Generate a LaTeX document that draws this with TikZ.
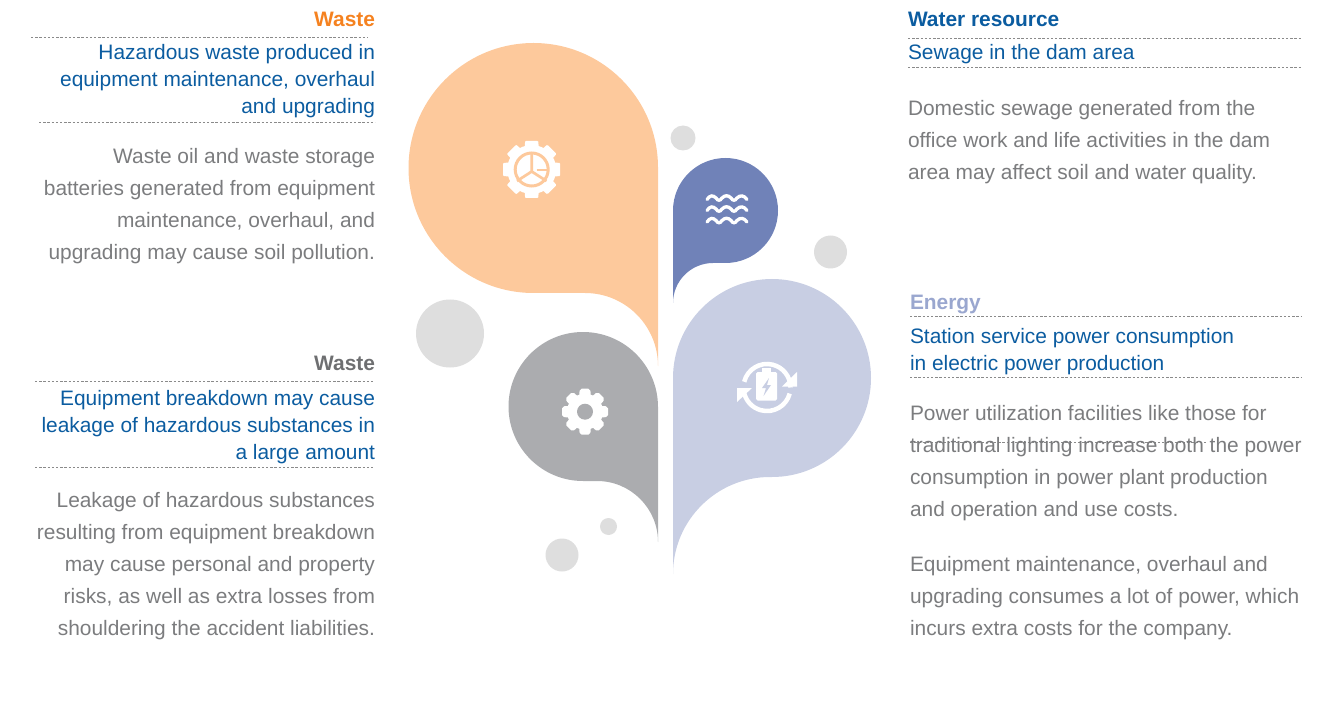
\documentclass[tikz,border=0pt]{standalone}
\usepackage{fontspec}
\setmainfont{Liberation Sans}
\definecolor{cOrange}{HTML}{FDC99C}
\definecolor{cGray}{HTML}{ABACAF}
\definecolor{cBlue}{HTML}{7082B8}
\definecolor{cLight}{HTML}{C8CEE3}
\definecolor{cDot}{HTML}{DEDEDE}
\definecolor{tBlue}{HTML}{0B5CA0}
\definecolor{tGray}{HTML}{7B7C7E}
\definecolor{tOrange}{HTML}{F58220}
\definecolor{tEnergy}{HTML}{9AA7CF}
\definecolor{tDark}{HTML}{6E6F71}
\definecolor{rule}{HTML}{8A8A8A}
\tikzset{
  x=1pt,y=-1pt,
  txt/.style={inner sep=0pt,outer sep=0pt,font=\fontsize{20.9}{32}\selectfont,text=tGray},
  sub/.style={inner sep=0pt,outer sep=0pt,font=\fontsize{20.9}{27}\selectfont,text=tBlue},
  head/.style={inner sep=0pt,outer sep=0pt,font=\fontsize{20.9}{27}\selectfont\bfseries},
  dotrule/.style={draw=rule,line width=0.9pt,dash pattern=on 2.4pt off 1.8pt},
  blob/.style={draw=none},
  bubble/.style={circle,fill=cDot,draw=none,inner sep=0pt,minimum size=#1}
}
\newcommand{\gearshape}[5]{% x,y,rbody,rout,corner
  \fill[white] (#1,#2) circle[radius=#3];
  \foreach \a in {0,45,...,315}{
    \fill[white,rotate around={\a:(#1,#2)},rounded corners=#5]
      ({#1-0.3*#4},#2) -- ({#1-0.23*#4},{#2-#4}) -- ({#1+0.23*#4},{#2-#4}) -- ({#1+0.3*#4},#2) -- cycle;
  }
}
\begin{document}
\begin{tikzpicture}
\useasboundingbox (0,0) rectangle (1325,727);
% petals
\fill[cOrange,blob] (533.5,43) arc[start angle=-90,end angle=0,radius=124.5] -- (658,366)
  .. controls (658,325.7) and (625.3,293) .. (585,293) -- (533.5,293) arc[start angle=90,end angle=270,radius=125] -- cycle;
\fill[cGray,blob] (583,332) arc[start angle=-90,end angle=0,radius=75] -- (658,542)
  .. controls (658,508.3) and (630.7,481) .. (597,481) -- (583,481) arc[start angle=90,end angle=270,radius=74.5] -- cycle;
\fill[cBlue,blob] (725.5,158) arc[start angle=-90,end angle=90,radius=52.5] -- (713,263)
  .. controls (691,263) and (673,281) .. (673,303) -- (673,210.5) arc[start angle=180,end angle=270,radius=52.5] -- cycle;
\fill[cLight,blob] (772,279) arc[start angle=-90,end angle=90,radius=99] -- (770,477)
  .. controls (717,477) and (673,520) .. (673,574) -- (673,378) arc[start angle=180,end angle=270,radius=99] -- cycle;
% bubbles
\node[bubble=25pt] (b1) at (683,138) {};
\node[bubble=33pt] (b2) at (830.5,252) {};
\node[bubble=68pt] (b3) at (450,333.5) {};
\node[bubble=17pt] (b4) at (608.5,526.5) {};
\node[bubble=33pt] (b5) at (562,555) {};
% orange gear icon
\gearshape{531.7}{169.5}{24.5}{28.5}{0.8pt}
\draw[cOrange,line width=3pt] (531.7,169.5) circle[radius=16.5];
\draw[cOrange,line width=2.7pt] (531.7,153) -- (531.7,171.5) -- (517,181) (531.7,171.5) -- (546.5,181);
\draw[cOrange,line width=2.4pt] (536.5,170) -- (548,170);
% wave icon
\foreach \yy in {198,209,220.5}{
  \draw[white,line width=3.3pt,line cap=round] (707,\yy+1.5)
    .. controls (710,\yy-3) and (713,\yy-3) .. (716,\yy)
    .. controls (718,\yy+3) and (720,\yy+3) .. (722,\yy)
    .. controls (725,\yy-3) and (728,\yy-3) .. (731,\yy)
    .. controls (733,\yy+3) and (735,\yy+3) .. (737,\yy)
    .. controls (740,\yy-3) and (744,\yy-3) .. (747,\yy+1.5);
}
% battery icon
\draw[white,line width=4.5pt] (744.2,381.8) arc[start angle=194,end angle=360,radius=23.5];
\draw[white,line width=4.5pt] (789.7,393.6) arc[start angle=15,end angle=170,radius=23.5];
\fill[white] (797,372) -- (797,386.5) -- (782,386.5) -- cycle;
\fill[white] (737,388) -- (752,388) -- (737,402) -- cycle;
\fill[white,rounded corners=1.5pt] (756,372) rectangle (777,400.5);
\fill[white] (762,368) rectangle (771,373);
\fill[cLight] (769,378) -- (762,388) -- (766,388) -- (763.5,396) -- (771,385) -- (767,385) -- cycle;
% grey gear icon
\gearshape{585}{411.7}{18}{23}{2pt}
\fill[cGray] (585,411.7) circle[radius=8];
% left column, block 1
\node[head,text=tOrange,anchor=base east] (h1) at (375,26.5) {Waste};
\coordinate (r1a) at (31,37); \coordinate (r1b) at (368,37);
\draw[dotrule] (r1a) -- (r1b);
\node[sub,anchor=base east,align=right] (s1) at (375,114) {Hazardous waste produced in\\equipment maintenance, overhaul\\and upgrading};
\coordinate (r2a) at (39,122); \coordinate (r2b) at (375,122);
\draw[dotrule] (r2a) -- (r2b);
\node[txt,anchor=base east,align=right] (t1) at (375,259.5) {Waste oil and waste storage\\batteries generated from equipment\\maintenance, overhaul, and\\upgrading may cause soil pollution.};
% left column, block 2
\node[head,text=tDark,anchor=base east] (h2) at (375,370.5) {Waste};
\coordinate (r3a) at (35,381); \coordinate (r3b) at (375,381);
\draw[dotrule] (r3a) -- (r3b);
\node[sub,anchor=base east,align=right] (s2) at (375,459) {Equipment breakdown may cause\\leakage of hazardous substances in\\a large amount};
\coordinate (r4a) at (35,467); \coordinate (r4b) at (375,467);
\draw[dotrule] (r4a) -- (r4b);
\node[txt,anchor=base east,align=right] (t2) at (375,635) {Leakage of hazardous substances\\resulting from equipment breakdown\\may cause personal and property\\risks, as well as extra losses from\\shouldering the accident liabilities.};
% right column, block 1
\node[head,text=tBlue,anchor=base west] (h3) at (908,26.5) {Water resource};
\coordinate (r5a) at (908,38); \coordinate (r5b) at (1302,38);
\draw[dotrule] (r5a) -- (r5b);
\node[sub,anchor=base west] (s3) at (908,60) {Sewage in the dam area};
\coordinate (r6a) at (908,67); \coordinate (r6b) at (1302,67);
\draw[dotrule] (r6a) -- (r6b);
\node[txt,anchor=base west,align=left] (t3) at (908,179.5) {Domestic sewage generated from the\\office work and life activities in the dam\\area may affect soil and water quality.};
% right column, block 2
\node[head,text=tEnergy,anchor=base west] (h4) at (910,309.5) {Energy};
\coordinate (r7a) at (910,316); \coordinate (r7b) at (1302,316);
\draw[dotrule] (r7a) -- (r7b);
\node[sub,anchor=base west,align=left] (s4) at (910,370) {Station service power consumption\\in electric power production};
\coordinate (r8a) at (910,377); \coordinate (r8b) at (1302,377);
\draw[dotrule] (r8a) -- (r8b);
\coordinate (r9a) at (910,442); \coordinate (r9b) at (1207,442);
\draw[dotrule,line width=0.6pt] (r9a) -- (r9b);
\node[txt,anchor=base west,align=left] (t4) at (910,516) {Power utilization facilities like those for\\traditional lighting increase both the power\\consumption in power plant production\\and operation and use costs.};
\node[txt,anchor=base west,align=left] (t5) at (910,635) {Equipment maintenance, overhaul and\\upgrading consumes a lot of power, which\\incurs extra costs for the company.};
\end{tikzpicture}
\end{document}
